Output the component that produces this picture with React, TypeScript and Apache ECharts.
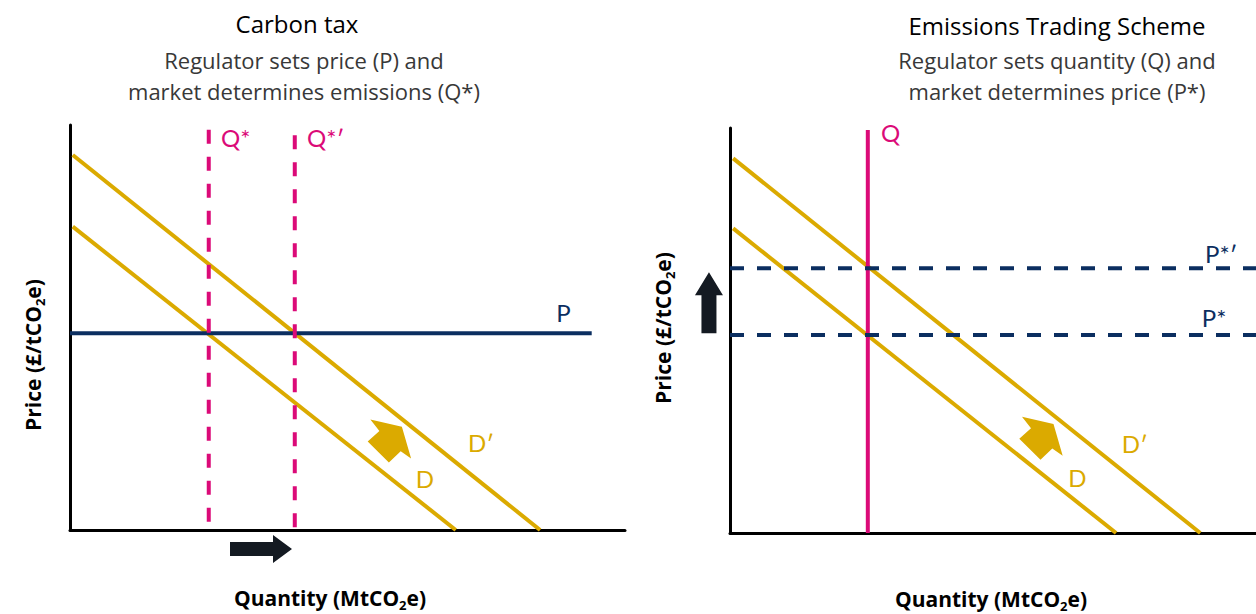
import React, { useEffect, useRef } from "react";
import * as echarts from "echarts";

// ---- Carbon tax panel (left) ----
const ctDemand = [[0.5, 74.9], [69.5, 0]];
const ctDemandShifted = [[0.5, 92.6], [84.7, 0]];
const ctPrice = [[0, 48.6], [94, 48.6]];
const ctQStar = [[25, 98.8], [25, 0]];
const ctQStarShifted = [[40.5, 97.5], [40.5, 0]];
const ctLabels = [
  { name: "Q*", x: 27.2, y: 97.0, kind: "q" },
  { name: "Q*′", x: 42.7, y: 96.8, kind: "q" },
  { name: "P", x: 87.6, y: 53.6, kind: "p" },
  { name: "D′", x: 71.7, y: 21.5, kind: "d" },
  { name: "D", x: 62.3, y: 12.6, kind: "d" },
];
const ctArrows = [
  { x: 59.8, y: 25.5, shape: "shift" },
  { x: 40.0, y: -4.7, shape: "right" },
];

// ---- Emissions Trading Scheme panel (right) ----
const etsDemand = [[0.6, 75.2], [73.4, 0]];
const etsDemandShifted = [[0.6, 92.5], [89.4, 0]];
const etsQuantity = [[26.2, 99.5], [26.2, 0]];
const etsPriceStar = [[0, 48.9], [100, 48.9]];
const etsPriceStarShifted = [[0, 65.4], [100, 65.4]];
const etsLabels = [
  { name: "Q", x: 28.7, y: 98.8, kind: "q" },
  { name: "P*′", x: 90.3, y: 69.1, kind: "p" },
  { name: "P*", x: 89.7, y: 53.2, kind: "p" },
  { name: "D′", x: 74.5, y: 22.2, kind: "d" },
  { name: "D", x: 64.3, y: 13.6, kind: "d" },
];
const etsArrows = [
  { x: 61.5, y: 26.9, shape: "shift" },
  { x: -4.0, y: 64.4, shape: "up" },
];

const titles = ["Carbon tax", "Emissions Trading Scheme"];
const subtitles = [
  "Regulator sets price (P) and\nmarket determines emissions (Q*)",
  "Regulator sets quantity (Q) and\nmarket determines price (P*)",
];

const FONT = "Lato, 'Open Sans', sans-serif";
const FONT2 = "'Open Sans', Lato, sans-serif";
const GOLD = "#DBAA00";
const MAGENTA = "#DB0A78";
const NAVY = "#0B2E60";
const DARK = "#141A22";

const SHAPES: Record<string, number[][]> = {
  shift: [[-31.5, -7.3], [0, 0], [9.2, 31.8], [-1.2, 24.4], [-13, 35.7], [-34.2, 14.7], [-22.5, 4.2]],
  right: [[0, 0], [-19, -14], [-19, -7], [-62, -7], [-62, 7], [-19, 7], [-19, 14]],
  up: [[0, 0], [14, 23], [7.5, 23], [7.5, 61], [-7.5, 61], [-7.5, 23], [-14, 23]],
};

const labelColor = (kind: string) => (kind === "q" ? MAGENTA : kind === "p" ? NAVY : GOLD);

function lineSeries(data: number[][], idx: number, color: string, dashed: boolean) {
  return {
    type: "line",
    xAxisIndex: idx,
    yAxisIndex: idx,
    data,
    showSymbol: false,
    symbol: "none",
    silent: true,
    clip: false,
    lineStyle: { color, width: 4, type: dashed ? [14, 13] : "solid" },
    z: 3,
  };
}

function labelSeries(labels: any[], idx: number) {
  return {
    type: "custom",
    xAxisIndex: idx,
    yAxisIndex: idx,
    clip: false,
    silent: true,
    z: 5,
    data: labels.map((l) => [l.x, l.y, l.name, l.kind]),
    renderItem: (_p: any, api: any) => {
      const pt = api.coord([api.value(0), api.value(1)]);
      const kind = api.value(3);
      return {
        type: "text",
        x: pt[0],
        y: pt[1],
        style: {
          text: api.value(2),
          fill: labelColor(kind),
          fontSize: 24,
          fontFamily: FONT,
          align: "left",
          verticalAlign: "middle",
        },
      };
    },
  };
}

function arrowSeries(arrows: any[], idx: number) {
  return {
    type: "custom",
    xAxisIndex: idx,
    yAxisIndex: idx,
    clip: false,
    silent: true,
    z: 6,
    data: arrows.map((a) => [a.x, a.y, a.shape]),
    renderItem: (_p: any, api: any) => {
      const pt = api.coord([api.value(0), api.value(1)]);
      const shape = String(api.value(2));
      const pts = SHAPES[shape].map(([dx, dy]) => [pt[0] + dx, pt[1] + dy]);
      return {
        type: "polygon",
        shape: { points: pts },
        style: { fill: shape === "shift" ? GOLD : DARK },
      };
    },
  };
}

function axisTitle(x: number, y: number, word: string, rotation: number) {
  return {
    type: "text",
    x,
    y,
    rotation,
    style: {
      text: `{a|${word} (}{a|${word === "Price" ? "£/tCO" : "MtCO"}}{s|2}{a|e)}`,
      align: "center",
      verticalAlign: "middle",
      rich: {
        a: { fontSize: 21, fontWeight: "bold", fontFamily: FONT2, fill: "#000", lineHeight: 26, verticalAlign: "middle" },
        s: { fontSize: 13, fontWeight: "bold", fontFamily: FONT2, fill: "#000", lineHeight: 12, verticalAlign: "bottom" },
      },
    },
  };
}

export default function App() {
  const ref = useRef<HTMLDivElement>(null);
  useEffect(() => {
    if (!ref.current) return;
    const chart = echarts.init(ref.current, null, { renderer: "svg" });
    const axisCommon = {
      type: "value",
      min: 0,
      max: 100,
      axisLine: { show: true, onZero: false, lineStyle: { color: "#000", width: 3 } },
      axisTick: { show: false },
      axisLabel: { show: false },
      splitLine: { show: false },
    };
    chart.setOption({
      animation: false,
      backgroundColor: "#fff",
      grid: [
        { left: 70, top: 125, width: 555, height: 405 },
        { left: 730, top: 128, width: 526, height: 405 },
      ],
      xAxis: [
        { ...axisCommon, gridIndex: 0 },
        { ...axisCommon, gridIndex: 1 },
      ],
      yAxis: [
        { ...axisCommon, gridIndex: 0 },
        { ...axisCommon, gridIndex: 1 },
      ],
      series: [
        lineSeries(ctDemand, 0, GOLD, false),
        lineSeries(ctDemandShifted, 0, GOLD, false),
        lineSeries(ctPrice, 0, NAVY, false),
        lineSeries(ctQStar, 0, MAGENTA, true),
        lineSeries(ctQStarShifted, 0, MAGENTA, true),
        labelSeries(ctLabels, 0),
        arrowSeries(ctArrows, 0),
        lineSeries(etsDemand, 1, GOLD, false),
        lineSeries(etsDemandShifted, 1, GOLD, false),
        lineSeries(etsQuantity, 1, MAGENTA, false),
        lineSeries(etsPriceStar, 1, NAVY, true),
        lineSeries(etsPriceStarShifted, 1, NAVY, true),
        labelSeries(etsLabels, 1),
        arrowSeries(etsArrows, 1),
      ],
      graphic: [
        { type: "text", x: 297, y: 23, style: { text: titles[0], fontSize: 24, fontFamily: FONT2, fill: "#000", align: "center", verticalAlign: "middle" } },
        { type: "text", x: 304, y: 75.5, style: { text: subtitles[0], fontSize: 22, lineHeight: 31, fontFamily: FONT2, fill: "#383838", align: "center", verticalAlign: "middle" } },
        { type: "text", x: 1057, y: 25, style: { text: titles[1], fontSize: 24, fontFamily: FONT2, fill: "#000", align: "center", verticalAlign: "middle" } },
        { type: "text", x: 1057, y: 75.5, style: { text: subtitles[1], fontSize: 22, lineHeight: 31, fontFamily: FONT2, fill: "#383838", align: "center", verticalAlign: "middle" } },
        axisTitle(330, 598, "Quantity", 0),
        axisTitle(991, 599, "Quantity", 0),
        axisTitle(33, 355, "Price", Math.PI / 2),
        axisTitle(663, 328, "Price", Math.PI / 2),
      ],
    });
    return () => chart.dispose();
  }, []);
  return (
    <div
      ref={ref}
      style={{ position: "fixed", left: 0, top: 0, width: 1256, height: 614, background: "#fff" }}
    />
  );
}
